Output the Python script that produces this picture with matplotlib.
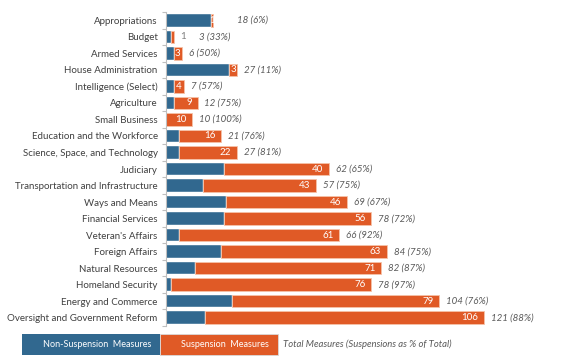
import matplotlib.pyplot as plt
from matplotlib.patches import Rectangle
import numpy as np

plt.rcParams['font.family'] = ['Lato', 'DejaVu Sans']

committees = ["Appropriations", "Budget", "Armed Services", "House Administration",
              "Intelligence (Select)", "Agriculture", "Small Business",
              "Education and the Workforce", "Science, Space, and Technology",
              "Judiciary", "Transportation and Infrastructure", "Ways and Means",
              "Financial Services", "Veteran's Affairs", "Foreign Affairs",
              "Natural Resources", "Homeland Security", "Energy and Commerce",
              "Oversight and Government Reform"]
total = [18, 3, 6, 27, 7, 12, 10, 21, 27, 62, 57, 69, 78, 66, 84, 82, 78, 104, 121]
suspension = [1, 1, 3, 3, 4, 9, 10, 16, 22, 40, 43, 46, 56, 61, 63, 71, 76, 79, 106]

total = np.array(total)
suspension = np.array(suspension)
non_susp = total - suspension
pct = np.round(suspension / total * 100).astype(int)

blue = '#31688F'
orange = '#E05A26'
grey = '#595959'

fig = plt.figure(figsize=(5.75, 3.58), dpi=100)
ax = fig.add_axes([166 / 575, 1 - 326 / 358, 394 / 575, 314 / 358])

y = np.arange(len(committees))
ax.barh(y, non_susp, height=0.76, color=blue, edgecolor='white', linewidth=0.3)
ax.barh(y, suspension, left=non_susp, height=0.76, color=orange,
        edgecolor='#F6C2A8', linewidth=0.6)

for i in range(len(committees)):
    name = committees[i]
    if name == "Budget":
        # too small: label sits outside the bar
        ax.annotate(str(suspension[i]), (total[i], i), xytext=(6.5, 0),
                    textcoords='offset points', ha='center', va='center',
                    color='#7F7F7F', fontsize=7)
    elif suspension[i] < 5:
        ax.annotate(str(suspension[i]), (non_susp[i] + suspension[i] / 2, i),
                    ha='center', va='center', color='white', fontsize=7)
    else:
        ax.annotate(str(suspension[i]), (total[i], i), xytext=(-4, 0),
                    textcoords='offset points', ha='right', va='center',
                    color='white', fontsize=7)
    off = 5
    if name == "Appropriations":
        off = 17
    elif name == "Budget":
        off = 18
    ax.annotate(f"{total[i]} ({pct[i]}%)", (total[i], i), xytext=(off, 0),
                textcoords='offset points', ha='left', va='center',
                color=grey, fontsize=7, style='italic')

ax.set_ylim(len(committees) - 0.5, -0.5)
ax.set_xlim(0, 150)
ax.set_yticks(y)
ax.set_yticklabels(committees, fontsize=7, color='#404040')
ax.set_yticks(np.arange(-0.5, len(committees), 1), minor=True)
ax.tick_params(axis='y', which='major', length=0, pad=6)
ax.tick_params(axis='y', which='minor', length=3, color='#BFBFBF', width=0.8)
ax.set_xticks([])
for s in ['top', 'right', 'bottom']:
    ax.spines[s].set_visible(False)
ax.spines['left'].set_color('#BFBFBF')
ax.spines['left'].set_linewidth(0.8)

# legend strip at the bottom
ly0, lh = 1 - 355 / 358, 21 / 358
fig.patches.append(Rectangle((22 / 575, ly0), 138 / 575, lh, transform=fig.transFigure,
                             facecolor=blue, edgecolor='none'))
fig.patches.append(Rectangle((160 / 575, ly0), 118 / 575, lh, transform=fig.transFigure,
                             facecolor=orange, edgecolor='#D9D9D9', linewidth=0.6))
fig.text(97 / 575, ly0 + lh / 2, "Non-Suspension  Measures", color='white',
         fontsize=6.5, ha='center', va='center')
fig.text(225 / 575, ly0 + lh / 2, "Suspension  Measures", color='white',
         fontsize=6.5, ha='center', va='center')
fig.text(283 / 575, ly0 + lh / 2, "Total Measures (Suspensions as % of Total)",
         color=grey, fontsize=6.8, ha='left', va='center', style='italic')

plt.savefig('out.png', dpi=100)
